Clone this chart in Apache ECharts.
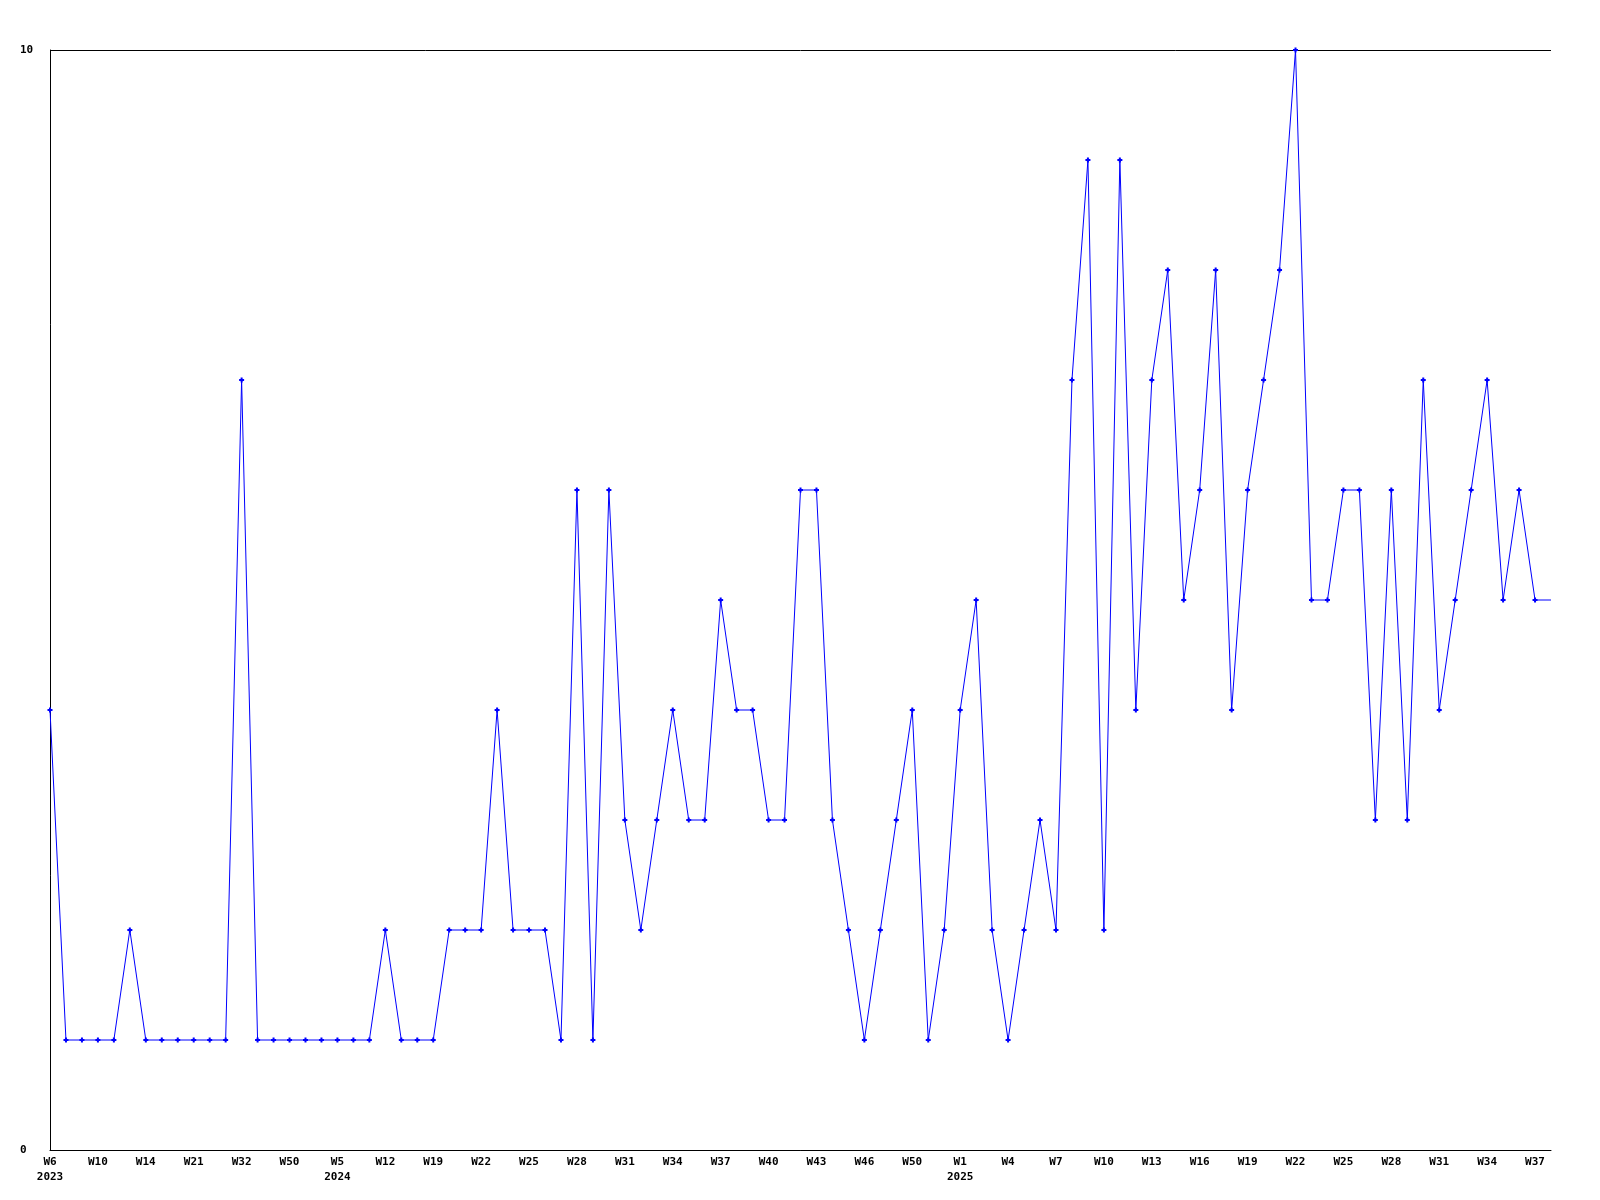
<!DOCTYPE html>
<html>
<head>
<meta charset="utf-8">
<script src="https://cdn.jsdelivr.net/npm/echarts@6/dist/echarts.min.js"></script>
<style>
  html, body { margin: 0; padding: 0; background: #fff; }
  #chart { width: 1600px; height: 1200px; }
</style>
</head>
<body>
<div id="chart"></div>
<script>
// ISO week of each sample
const weeks = [
  6, 7, 8, 10, 11, 13, 14, 16, 18, 21, 24, 28, 32, 37, 44, 50, 51, 52,
  5, 7, 10, 12, 14, 16, 19, 20, 21, 22, 23, 24, 25, 26, 27, 28, 29, 30,
  31, 32, 33, 34, 35, 36, 37, 38, 39, 40, 41, 42, 43, 44, 45, 46, 47, 48,
  50, 51, 52,
  1, 2, 3, 4, 5, 6, 7, 8, 9, 10, 11, 12, 13, 14, 15, 16, 17, 18, 19, 20,
  21, 22, 23, 24, 25, 26, 27, 28, 29, 30, 31, 32, 33, 34, 35, 36, 37, 38
];
// year of each sample
const years = [
  2023, 2023, 2023, 2023, 2023, 2023, 2023, 2023, 2023, 2023, 2023, 2023, 2023, 2023, 2023, 2023, 2023, 2023,
  2024, 2024, 2024, 2024, 2024, 2024, 2024, 2024, 2024, 2024, 2024, 2024, 2024, 2024, 2024, 2024, 2024, 2024,
  2024, 2024, 2024, 2024, 2024, 2024, 2024, 2024, 2024, 2024, 2024, 2024, 2024, 2024, 2024, 2024, 2024, 2024,
  2024, 2024, 2024,
  2025, 2025, 2025, 2025, 2025, 2025, 2025, 2025, 2025, 2025, 2025, 2025, 2025, 2025, 2025, 2025, 2025, 2025, 2025, 2025,
  2025, 2025, 2025, 2025, 2025, 2025, 2025, 2025, 2025, 2025, 2025, 2025, 2025, 2025, 2025, 2025, 2025, 2025
];
// values per sample
const counts = [
  4, 1, 1, 1, 1, 2, 1, 1, 1, 1, 1, 1, 7, 1, 1, 1, 1, 1,
  1, 1, 1, 2, 1, 1, 1, 2, 2, 2, 4, 2, 2, 2, 1, 6, 1, 6,
  3, 2, 3, 4, 3, 3, 5, 4, 4, 3, 3, 6, 6, 3, 2, 1, 2, 3,
  4, 1, 2,
  4, 5, 2, 1, 2, 3, 2, 7, 9, 2, 9, 4, 7, 8, 5, 6, 8, 4,
  6, 7, 8, 10, 5, 5, 6, 6, 3, 6, 3, 7, 4, 5, 6, 7, 5, 6, 5, 5
];
const yTicks = [0, 10];

const categories = weeks.map((w, i) => 'W' + w);
const lastIdx = counts.length - 1;
const seriesData = counts.map((v, i) => i === lastIdx ? { value: v, symbol: 'none' } : v);

const chart = echarts.init(document.getElementById('chart'), null, { renderer: 'canvas' });
const fontFamily = '"DejaVu Sans Mono", "Liberation Mono", monospace';

chart.setOption({
  animation: false,
  backgroundColor: '#ffffff',
  grid: { left: 50, right: 49, top: 50, bottom: 50, containLabel: false },
  xAxis: {
    type: 'category',
    data: categories,
    boundaryGap: false,
    axisLine: { show: true, lineStyle: { color: '#000', width: 1 } },
    axisTick: { show: false },
    splitLine: { show: false },
    axisLabel: {
      interval: 2,
      margin: 5,
      color: '#000',
      fontFamily: fontFamily,
      fontWeight: 'bold',
      fontSize: 11,
      lineHeight: 15,
      formatter: function (val, idx) {
        if (idx === 0 || years[idx] !== years[idx - 1]) {
          return val + '\n' + years[idx];
        }
        return val;
      }
    }
  },
  yAxis: {
    type: 'value',
    min: yTicks[0],
    max: yTicks[1],
    interval: yTicks[1] - yTicks[0],
    axisLine: { show: true, lineStyle: { color: '#000', width: 1 } },
    axisTick: { show: false },
    splitLine: { show: true, lineStyle: { color: '#000', width: 1 } },
    axisLabel: {
      align: 'left',
      margin: 30,
      color: '#000',
      fontFamily: fontFamily,
      fontWeight: 'bold',
      fontSize: 11
    }
  },
  series: [{
    type: 'line',
    data: seriesData,
    showAllSymbol: true,
    symbol: 'path://M1.5,0H3.5V1.5H5V3.5H3.5V5H1.5V3.5H0V1.5H1.5Z',
    symbolSize: 5,
    itemStyle: { color: '#0000ff' },
    lineStyle: { color: '#0000ff', width: 1 },
    clip: false
  }]
});
</script>
</body>
</html>
